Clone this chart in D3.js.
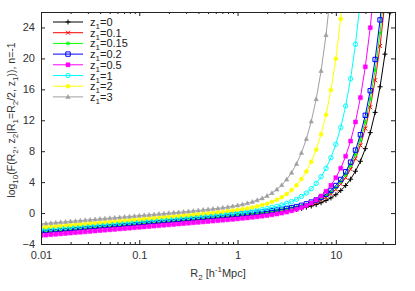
<!DOCTYPE html>
<html>
<head>
<meta charset="utf-8">
<script src="https://cdn.jsdelivr.net/npm/d3@7"></script>
<style>
  body { margin: 0; background: #fff; }
  text { font-family: "Liberation Sans", Arial, sans-serif; }
</style>
</head>
<body>
<div id="chart"></div>
<script>
// F(R2, z2 | R1=R2/2, z1), n=-1 : log10 values

// shared R2 grid [h^-1 Mpc]
var r2 = [0.01, 0.01122, 0.01259, 0.01413, 0.01585, 0.01778, 0.01995, 0.02239, 0.02512, 0.02818,
  0.03162, 0.03548, 0.03981, 0.04467, 0.05012, 0.05623, 0.0631, 0.07079, 0.07943, 0.08913,
  0.1, 0.1122, 0.1259, 0.1413, 0.1585, 0.1778, 0.1995, 0.2239, 0.2512, 0.2818,
  0.3162, 0.3548, 0.3981, 0.4467, 0.5012, 0.5623, 0.631, 0.7079, 0.7943, 0.8913,
  1, 1.122, 1.259, 1.413, 1.585, 1.778, 1.995, 2.239, 2.512, 2.818,
  3.162, 3.548, 3.981, 4.467, 5.012, 5.623, 6.31, 7.079, 7.943, 8.913,
  10, 11.22, 12.59, 14.13, 15.85, 17.78, 19.95, 22.39, 25.12, 28.18,
  31.62, 35.48, 39.81];

var fz0 = [-2.52, -2.47, -2.41, -2.36, -2.31, -2.26, -2.20, -2.15, -2.10, -2.04,
  -1.99, -1.94, -1.88, -1.83, -1.78, -1.73, -1.67, -1.62, -1.57, -1.51,
  -1.46, -1.41, -1.35, -1.30, -1.25, -1.19, -1.14, -1.09, -1.04, -0.98,
  -0.93, -0.88, -0.82, -0.77, -0.71, -0.66, -0.61, -0.55, -0.50, -0.44,
  -0.39, -0.33, -0.27, -0.21, -0.15, -0.09, -0.02, 0.05, 0.12, 0.20,
  0.28, 0.38, 0.49, 0.61, 0.75, 0.91, 1.10, 1.34, 1.62, 1.96,
  2.38, 2.91, 3.56, 4.38, 5.41, 6.70, 8.33, 10.40, 13.02, 16.33,
  20.55, 25.89, 32.68];

var fz01 = [-2.45, -2.40, -2.34, -2.29, -2.24, -2.19, -2.13, -2.08, -2.03, -1.97,
  -1.92, -1.87, -1.81, -1.76, -1.71, -1.66, -1.60, -1.55, -1.50, -1.44,
  -1.39, -1.34, -1.28, -1.23, -1.18, -1.12, -1.07, -1.02, -0.97, -0.91,
  -0.86, -0.80, -0.75, -0.70, -0.64, -0.59, -0.54, -0.48, -0.42, -0.37,
  -0.31, -0.25, -0.19, -0.13, -0.07, 0.00, 0.07, 0.14, 0.22, 0.31,
  0.41, 0.52, 0.64, 0.79, 0.96, 1.16, 1.40, 1.69, 2.05, 2.50,
  3.05, 3.73, 4.59, 5.67, 7.03, 8.75, 10.93, 13.69, 17.18, 21.61,
  27.26];

var fz015 = [-2.35, -2.30, -2.24, -2.19, -2.14, -2.09, -2.03, -1.98, -1.93, -1.87,
  -1.82, -1.77, -1.71, -1.66, -1.61, -1.56, -1.50, -1.45, -1.40, -1.34,
  -1.29, -1.24, -1.18, -1.13, -1.08, -1.02, -0.97, -0.92, -0.86, -0.81,
  -0.76, -0.70, -0.65, -0.60, -0.54, -0.49, -0.43, -0.38, -0.32, -0.27,
  -0.21, -0.15, -0.09, -0.03, 0.03, 0.10, 0.17, 0.25, 0.33, 0.42,
  0.52, 0.64, 0.77, 0.92, 1.10, 1.31, 1.57, 1.88, 2.26, 2.73,
  3.32, 4.06, 4.98, 6.14, 7.60, 9.44, 11.78, 14.74, 18.50, 23.27,
  29.34];

var fz02 = [-2.30, -2.25, -2.19, -2.14, -2.09, -2.04, -1.98, -1.93, -1.88, -1.82,
  -1.77, -1.72, -1.66, -1.61, -1.56, -1.51, -1.45, -1.40, -1.35, -1.29,
  -1.24, -1.19, -1.13, -1.08, -1.03, -0.97, -0.92, -0.87, -0.81, -0.76,
  -0.71, -0.65, -0.60, -0.55, -0.49, -0.44, -0.38, -0.33, -0.27, -0.22,
  -0.16, -0.10, -0.04, 0.02, 0.09, 0.16, 0.23, 0.31, 0.39, 0.48,
  0.59, 0.71, 0.84, 1.00, 1.19, 1.42, 1.69, 2.02, 2.43, 2.93,
  3.56, 4.35, 5.34, 6.58, 8.14, 10.13, 12.64, 15.82, 19.86, 24.98,
  31.51];

var fz05 = [-2.90, -2.85, -2.79, -2.74, -2.69, -2.64, -2.58, -2.53, -2.48, -2.42,
  -2.37, -2.32, -2.26, -2.21, -2.16, -2.11, -2.05, -2.00, -1.95, -1.89,
  -1.84, -1.79, -1.73, -1.68, -1.63, -1.57, -1.52, -1.47, -1.41, -1.36,
  -1.31, -1.25, -1.20, -1.14, -1.09, -1.03, -0.98, -0.92, -0.87, -0.81,
  -0.75, -0.68, -0.62, -0.55, -0.48, -0.40, -0.32, -0.22, -0.12, 0.00,
  0.13, 0.29, 0.48, 0.70, 0.97, 1.30, 1.70, 2.20, 2.82, 3.60,
  4.57, 5.80, 7.35, 9.31, 11.78, 14.93, 18.91, 23.97, 30.40];

var fz1 = [-2.10, -2.05, -1.99, -1.94, -1.89, -1.84, -1.78, -1.73, -1.68, -1.62,
  -1.57, -1.52, -1.46, -1.41, -1.36, -1.31, -1.25, -1.20, -1.15, -1.09,
  -1.04, -0.99, -0.93, -0.88, -0.83, -0.77, -0.72, -0.67, -0.61, -0.56,
  -0.50, -0.45, -0.40, -0.34, -0.28, -0.23, -0.17, -0.11, -0.05, 0.02,
  0.08, 0.15, 0.23, 0.31, 0.40, 0.49, 0.60, 0.73, 0.87, 1.04,
  1.25, 1.49, 1.78, 2.15, 2.59, 3.15, 3.84, 4.70, 5.79, 7.16,
  8.89, 11.07, 13.85, 17.36, 21.82, 27.49];

var fz2 = [-1.85, -1.80, -1.74, -1.69, -1.64, -1.58, -1.53, -1.48, -1.43, -1.37,
  -1.32, -1.27, -1.21, -1.16, -1.11, -1.05, -1.00, -0.95, -0.90, -0.84,
  -0.79, -0.74, -0.68, -0.63, -0.57, -0.52, -0.47, -0.41, -0.36, -0.30,
  -0.25, -0.19, -0.13, -0.07, -0.01, 0.05, 0.11, 0.18, 0.26, 0.33,
  0.42, 0.51, 0.62, 0.73, 0.87, 1.03, 1.22, 1.45, 1.72, 2.05,
  2.46, 2.97, 3.60, 4.39, 5.38, 6.63, 8.20, 10.19, 12.71, 15.91,
  19.96, 25.11, 31.66];

var fz3 = [-1.40, -1.35, -1.29, -1.24, -1.19, -1.14, -1.08, -1.03, -0.98, -0.92,
  -0.87, -0.82, -0.76, -0.71, -0.66, -0.61, -0.55, -0.50, -0.45, -0.39,
  -0.34, -0.28, -0.23, -0.18, -0.12, -0.07, -0.01, 0.04, 0.10, 0.16,
  0.21, 0.27, 0.34, 0.40, 0.47, 0.54, 0.61, 0.69, 0.78, 0.88,
  1.00, 1.12, 1.27, 1.45, 1.66, 1.91, 2.21, 2.59, 3.05, 3.62,
  4.34, 5.23, 6.36, 7.78, 9.58, 11.85, 14.73, 18.38, 23.02, 28.91];

var zLabels = ["0", "0.1", "0.15", "0.2", "0.5", "1", "2", "3"];
var seriesValues = [fz0, fz01, fz015, fz02, fz05, fz1, fz2, fz3];

var yTicks = [-4, 0, 4, 8, 12, 16, 20, 24];
var xTicks = [0.01, 0.1, 1, 10];
var xTickLabels = ["0.01", "0.1", "1", "10"];

// gnuplot-ish styles
var colors = ["#000000", "#ff0000", "#00ff00", "#0000ff", "#ff00ff", "#00ffff", "#ffff00", "#a0a0a0"];
var shapes = ["plus", "cross", "star", "box", "boxF", "circle", "circleF", "tri"];

var svgWidth = 415;
var svgHeight = 291;
var margin = { top: 12, right: 20, bottom: 47, left: 41 };
var width = svgWidth - margin.left - margin.right;
var height = svgHeight - margin.top - margin.bottom;

var svg = d3.select("#chart")
  .append("svg")
  .attr("width", svgWidth)
  .attr("height", svgHeight);

var chartGroup = svg.append("g")
  .attr("transform", `translate(${margin.left}, ${margin.top})`);

var xScale = d3.scaleLog().domain([0.01, 40]).range([0, width]);
var yScale = d3.scaleLinear().domain([-4, 26]).range([height, 0]);

// minor log ticks between decades
var xMinor = [];
xTicks.forEach(function(t) {
  for (var m = 2; m <= 9; m++) {
    if (t * m < 40) xMinor.push(t * m);
  }
});

// axes (ticks inside, mirrored)
function styleAxis(g) {
  g.select(".domain").remove();
  g.attr("color", "#222")
    .attr("font-size", 11)
    .attr("font-family", "'Liberation Sans', Arial, sans-serif");
  g.selectAll("text").attr("fill", "#333");
}

chartGroup.append("g")
  .call(d3.axisLeft(yScale).tickValues(yTicks).tickSize(-4).tickPadding(6))
  .call(styleAxis);

chartGroup.append("g")
  .attr("transform", `translate(${width}, 0)`)
  .call(d3.axisRight(yScale).tickValues(yTicks).tickSize(-4).tickFormat(""))
  .call(styleAxis);

chartGroup.append("g")
  .attr("transform", `translate(0, ${height})`)
  .call(d3.axisBottom(xScale).tickValues(xTicks).tickSize(-4).tickPadding(7)
    .tickFormat(function(d, i) { return xTickLabels[i]; }))
  .call(styleAxis);

chartGroup.append("g")
  .attr("transform", `translate(0, ${height})`)
  .call(d3.axisBottom(xScale).tickValues(xMinor).tickSize(-2).tickFormat(""))
  .call(styleAxis);

chartGroup.append("g")
  .call(d3.axisTop(xScale).tickValues(xTicks).tickSize(-4).tickFormat(""))
  .call(styleAxis);

chartGroup.append("g")
  .call(d3.axisTop(xScale).tickValues(xMinor).tickSize(-2).tickFormat(""))
  .call(styleAxis);

// clip to plot area
svg.append("defs").append("clipPath")
  .attr("id", "plotClip")
  .append("rect")
  .attr("width", width)
  .attr("height", height);

var plotArea = chartGroup.append("g").attr("clip-path", "url(#plotClip)");

var markerPaths = {
  plus: "M-2.5,0H2.5M0,-2.5V2.5",
  cross: "M-2,-2L2,2M-2,2L2,-2",
  star: "M-2,0H2M0,-2V2M-1.6,-1.6L1.6,1.6M-1.6,1.6L1.6,-1.6",
  box: "M-2.2,-2.2H2.2V2.2H-2.2Z",
  boxF: "M-2,-2H2V2H-2Z",
  circle: "M2.2,0A2.2,2.2 0 1,1 -2.2,0A2.2,2.2 0 1,1 2.2,0Z",
  circleF: "M2,0A2,2 0 1,1 -2,0A2,2 0 1,1 2,0Z",
  tri: "M0,-2.4L2.2,1.6L-2.2,1.6Z"
};
var filled = { boxF: true, circleF: true, tri: true };

function addMarker(sel, shape, color) {
  sel.append("path")
    .attr("d", markerPaths[shape])
    .attr("fill", filled[shape] ? color : "none")
    .attr("stroke", color)
    .attr("stroke-width", shape === "tri" || shape === "boxF" || shape === "circleF" ? 0.5 : 1);
}

var line = d3.line()
  .x(function(d) { return xScale(d.r); })
  .y(function(d) { return yScale(d.f); });

seriesValues.forEach(function(vals, i) {
  var pts = vals.map(function(f, j) { return { r: r2[j], f: f }; });
  var g = plotArea.append("g");
  g.append("path")
    .datum(pts)
    .attr("d", line)
    .attr("fill", "none")
    .attr("stroke", colors[i])
    .attr("stroke-width", 1);
  g.selectAll(".pt")
    .data(pts)
    .enter()
    .append("g")
    .attr("class", "pt")
    .attr("transform", function(d) { return `translate(${xScale(d.r)}, ${yScale(d.f)})`; })
    .each(function() { addMarker(d3.select(this), shapes[i], colors[i]); });
});

// frame
chartGroup.append("rect")
  .attr("x", 0.5)
  .attr("y", 0.5)
  .attr("width", width)
  .attr("height", height)
  .attr("fill", "none")
  .attr("stroke", "#222")
  .attr("stroke-width", 1);

// legend
var legend = chartGroup.append("g").attr("transform", "translate(12, 10)");
zLabels.forEach(function(lab, i) {
  var row = legend.append("g").attr("transform", `translate(0, ${i * 10.7})`);
  row.append("line")
    .attr("x1", 0).attr("x2", 30)
    .attr("stroke", colors[i]).attr("stroke-width", 1);
  addMarker(row.append("g").attr("transform", "translate(15, 0)"), shapes[i], colors[i]);
  var t = row.append("text")
    .attr("x", 37)
    .attr("y", 4)
    .attr("font-size", 11)
    .attr("fill", "#222");
  t.append("tspan").text("z");
  t.append("tspan").attr("font-size", 8).attr("dy", 3).text("1");
  t.append("tspan").attr("dy", -3).text("=" + lab);
});

// y axis label
var yLab = svg.append("text")
  .attr("transform", "translate(15, 120) rotate(-90)")
  .attr("text-anchor", "middle")
  .attr("font-size", 10.5)
  .attr("fill", "#333");
var yParts = [["log", 0], ["10", 1], ["(F(R", 0], ["2", 1], [", z", 0], ["2", 1], ["|R", 0], ["1", 1],
  ["=R", 0], ["2", 1], ["/2, z", 0], ["1", 1], [")), n=-1", 0]];
var prevSub = 0;
yParts.forEach(function(p) {
  yLab.append("tspan")
    .attr("font-size", p[1] ? 8 : 10.5)
    .attr("dy", (p[1] - prevSub) * 3)
    .text(p[0]);
  prevSub = p[1];
});

// x axis label
var xLab = svg.append("text")
  .attr("x", 218)
  .attr("y", 277)
  .attr("text-anchor", "middle")
  .attr("font-size", 11)
  .attr("fill", "#333");
xLab.append("tspan").text("R");
xLab.append("tspan").attr("font-size", 8).attr("dy", 3).text("2");
xLab.append("tspan").attr("dy", -3).text(" [h");
xLab.append("tspan").attr("font-size", 8).attr("dy", -5).text("-1");
xLab.append("tspan").attr("dy", 5).text("Mpc]");
</script>
</body>
</html>
